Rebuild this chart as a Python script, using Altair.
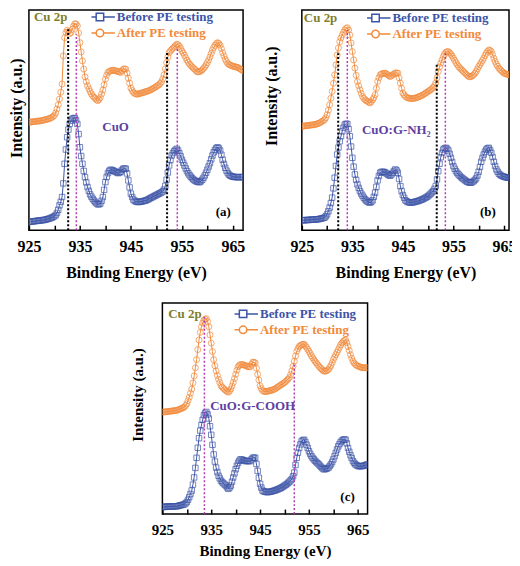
import altair as alt
import numpy as np
import pandas as pd

# ---------------- data ----------------
energy = [float(e) for e in np.arange(925.0, 967.001, 0.25)]  # binding energy grid (eV), 169 points
series_names = ["Before PE testing", "After PE testing"]

# panel (a) CuO
a_before = [8.3, 8.5, 8.7, 8.9, 9.0, 9.2, 9.3, 9.5, 9.7, 9.8, 10.0, 10.2,
            10.3, 10.6, 11.0, 11.3, 11.7, 12.2, 12.7, 13.3,
            14.0, 15.3, 17.3, 20.5, 25.0, 28.5, 33.3, 47.0,
            66.7, 81.0, 93.3, 101.0, 106.7, 110.0, 111.7, 112.5,
            112.7, 110.5, 106.7, 96.5, 83.3, 74.5, 66.7, 59.5,
            53.3, 48.0, 43.3, 39.5, 36.0, 33.7, 31.7, 29.9,
            28.3, 27.0, 26.0, 26.0, 26.7, 29.5, 33.3, 40.5,
            48.3, 53.5, 57.3, 59.5, 60.7, 60.5, 60.0, 59.3,
            58.7, 58.0, 57.3, 57.8, 58.7, 60.5, 61.7, 62.0,
            61.7, 57.0, 50.0, 43.0, 36.7, 33.3, 30.7, 29.5,
            28.7, 28.4, 28.3, 28.5, 28.7, 29.0, 29.3, 29.7,
            30.0, 30.6, 31.3, 32.0, 32.7, 33.3, 34.0, 34.7,
            35.3, 36.0, 36.7, 37.3, 38.0, 39.0, 40.7, 44.5,
            50.7, 58.0, 65.0, 70.5, 75.0, 77.5, 79.3, 80.7,
            81.7, 80.0, 77.3, 74.2, 70.7, 67.8, 65.0, 62.0,
            59.3, 57.2, 55.3, 53.7, 52.3, 51.0, 50.0, 49.3,
            48.7, 48.3, 48.3, 49.3, 50.7, 52.7, 55.0, 57.7,
            60.7, 64.0, 67.3, 71.2, 75.0, 78.2, 80.7, 82.5,
            83.3, 82.2, 80.0, 75.8, 70.7, 66.5, 62.7, 59.8,
            57.3, 55.8, 54.7, 54.1, 53.7, 53.5, 53.3, 53.3,
            53.3, 53.3, 53.3, 53.3, 53.3]
a_after = [108.3, 108.5, 108.7, 108.9, 109.0, 109.2, 109.3, 109.5,
           109.7, 109.8, 110.0, 110.3, 110.7, 111.0, 111.3, 111.7,
           112.0, 112.6, 113.3, 114.2, 115.3, 117.8, 121.7, 126.0,
           131.7, 138.5, 146.7, 175.0, 193.3, 198.5, 200.7, 199.5,
           197.3, 198.5, 201.7, 204.8, 207.3, 207.0, 205.0, 198.0,
           188.3, 179.0, 170.0, 161.8, 154.0, 149.2, 145.0, 142.0,
           139.3, 137.0, 135.0, 133.5, 132.3, 131.0, 130.0, 131.2,
           133.3, 136.7, 140.7, 146.0, 151.7, 155.5, 158.3, 159.4,
           160.0, 160.4, 160.7, 160.4, 160.0, 159.7, 159.3, 158.8,
           158.3, 160.0, 161.7, 162.0, 161.7, 157.8, 152.7, 147.5,
           142.7, 140.2, 138.3, 137.3, 136.7, 136.6, 136.7, 137.2,
           137.7, 138.0, 138.3, 138.8, 139.3, 139.7, 140.0, 140.6,
           141.3, 142.0, 142.7, 143.5, 144.3, 145.2, 146.0, 147.3,
           149.0, 152.0, 156.0, 162.0, 168.3, 174.0, 178.3, 180.2,
           181.3, 182.7, 184.0, 185.5, 186.7, 186.2, 184.7, 182.5,
           180.0, 178.0, 175.7, 173.2, 170.7, 168.6, 166.7, 165.3,
           164.0, 162.8, 161.7, 160.3, 159.0, 159.0, 159.3, 160.0,
           161.0, 162.4, 164.0, 166.0, 168.3, 171.0, 174.0, 177.5,
           180.7, 183.5, 185.7, 187.5, 188.3, 187.5, 185.7, 182.3,
           178.3, 175.0, 171.7, 169.3, 167.3, 166.4, 165.7, 165.2,
           164.7, 164.3, 164.0, 163.7, 163.3, 162.5, 161.7, 160.8,
           160.0]

# panel (b) CuO:G-NH2
b_before = [10.0, 10.0, 10.0, 10.2, 10.3, 10.3, 10.3, 10.5,
            10.7, 10.7, 10.7, 10.8, 11.0, 11.1, 11.3, 11.6,
            12.0, 12.3, 12.7, 14.0, 16.0, 19.0, 22.7, 27.3,
            32.7, 42.0, 52.7, 64.5, 76.0, 83.0, 89.3, 94.5,
            99.3, 103.0, 106.0, 106.8, 106.7, 101.5, 94.3, 84.0,
            72.7, 63.8, 56.0, 50.5, 46.0, 42.5, 39.3, 36.8,
            34.7, 32.7, 31.0, 29.8, 28.7, 28.0, 27.7, 28.5,
            30.0, 33.5, 37.7, 43.5, 50.0, 54.5, 57.7, 58.5,
            58.7, 58.5, 58.0, 57.0, 56.0, 55.2, 54.7, 56.0,
            57.7, 59.5, 61.0, 60.0, 57.7, 51.5, 44.3, 39.3,
            35.3, 32.5, 30.0, 29.0, 28.3, 27.9, 27.7, 27.8,
            28.0, 28.3, 28.7, 29.0, 29.3, 29.8, 30.3, 30.8,
            31.3, 32.0, 32.7, 33.5, 34.3, 35.5, 36.7, 38.0,
            39.3, 41.5, 44.3, 51.0, 59.3, 66.8, 73.3, 77.5,
            81.0, 82.2, 82.7, 81.8, 80.0, 76.7, 72.7, 68.5,
            64.3, 61.7, 59.3, 57.5, 56.0, 54.6, 53.3, 52.3,
            51.3, 50.3, 49.3, 48.6, 48.0, 47.8, 47.7, 48.3,
            49.3, 50.5, 52.0, 55.0, 58.7, 63.5, 68.7, 72.5,
            76.0, 78.8, 81.0, 82.2, 82.7, 80.5, 77.7, 73.5,
            68.7, 64.5, 61.0, 58.7, 56.7, 55.6, 54.7, 54.2,
            53.7, 53.3, 53.0, 52.8, 52.7, 52.7, 52.7, 52.7,
            52.7]
b_after = [104.3, 104.5, 104.7, 104.8, 105.0, 105.2, 105.3, 105.5,
           105.7, 105.8, 106.0, 106.3, 106.7, 107.2, 107.7, 108.4,
           109.3, 110.1, 111.0, 113.0, 116.0, 120.5, 126.0, 132.5,
           139.3, 147.5, 156.0, 166.0, 176.0, 183.0, 189.3, 193.0,
           196.0, 198.7, 201.0, 202.5, 203.3, 201.0, 196.0, 188.0,
           179.3, 171.0, 162.7, 155.5, 149.3, 145.0, 141.0, 137.5,
           134.3, 132.5, 131.0, 130.1, 129.3, 128.5, 127.7, 129.0,
           131.0, 133.0, 136.0, 142.5, 149.3, 153.0, 156.0, 156.8,
           157.3, 157.5, 157.7, 157.0, 156.0, 155.0, 154.3, 155.0,
           156.0, 157.0, 157.7, 158.0, 157.7, 153.0, 147.7, 142.5,
           137.7, 135.8, 134.3, 133.4, 132.7, 132.5, 132.3, 132.3,
           132.3, 132.5, 132.7, 133.2, 133.7, 134.2, 134.7, 135.3,
           136.0, 136.8, 137.7, 138.5, 139.3, 140.2, 141.0, 142.1,
           143.3, 145.2, 147.7, 153.0, 159.3, 164.0, 167.7, 171.0,
           174.3, 176.8, 178.7, 179.2, 179.3, 178.2, 176.7, 174.8,
           172.7, 170.5, 168.3, 166.3, 164.3, 163.0, 161.7, 160.5,
           159.3, 158.0, 156.7, 155.5, 154.3, 154.0, 154.3, 155.0,
           156.0, 157.5, 159.3, 161.8, 164.3, 166.3, 168.3, 170.5,
           172.7, 175.3, 177.7, 179.5, 181.0, 180.5, 179.3, 176.3,
           172.7, 169.5, 166.7, 164.7, 162.7, 161.3, 160.0, 158.8,
           157.7, 157.2, 156.7, 156.3, 156.0, 156.0, 156.0, 155.7,
           155.3]

# panel (c) CuO:G-COOH
c_before = [7.3, 7.3, 7.3, 7.5, 7.7, 7.7, 7.7, 7.7,
            7.7, 7.8, 8.0, 8.0, 8.0, 8.3, 8.7, 9.0,
            9.3, 9.6, 10.0, 11.0, 12.3, 14.5, 17.3, 20.5,
            24.0, 30.0, 37.3, 47.0, 57.3, 67.5, 77.3, 85.0,
            90.7, 96.0, 100.7, 103.0, 104.0, 101.5, 97.3, 89.5,
            80.7, 70.5, 60.7, 53.5, 47.3, 42.8, 39.0, 36.3,
            34.0, 32.5, 31.3, 30.1, 29.0, 27.2, 25.7, 27.0,
            29.0, 33.0, 37.3, 41.5, 45.7, 49.2, 52.3, 54.3,
            55.7, 55.5, 55.0, 54.5, 54.0, 54.0, 54.0, 54.0,
            54.0, 55.7, 57.3, 57.5, 57.3, 51.0, 44.0, 37.0,
            30.7, 27.0, 24.0, 23.2, 22.7, 22.5, 22.3, 22.5,
            22.7, 23.0, 23.3, 23.7, 24.0, 24.5, 25.0, 25.5,
            26.0, 26.6, 27.3, 28.1, 29.0, 29.8, 30.7, 31.8,
            33.0, 34.3, 35.7, 38.5, 42.3, 50.0, 57.3, 62.5,
            67.3, 71.0, 74.0, 75.2, 75.7, 73.5, 70.7, 67.3,
            64.0, 61.3, 59.0, 57.3, 55.7, 54.3, 53.0, 51.8,
            50.7, 49.3, 48.0, 46.8, 45.7, 45.7, 46.0, 46.6,
            47.3, 49.0, 50.7, 53.0, 55.7, 59.0, 62.3, 65.8,
            69.0, 71.3, 73.3, 74.8, 75.7, 76.0, 75.7, 72.0,
            67.3, 63.5, 60.0, 57.0, 54.0, 52.2, 50.7, 49.8,
            49.0, 48.8, 48.7, 48.8, 49.0, 49.3, 49.7, 50.2,
            50.7]
c_after = [104.0, 104.0, 104.0, 104.2, 104.3, 104.5, 104.7, 104.8,
           105.0, 105.2, 105.3, 105.5, 105.7, 106.2, 106.7, 107.2,
           107.7, 108.3, 109.0, 110.5, 112.3, 115.5, 119.0, 123.0,
           127.3, 133.5, 140.7, 149.0, 157.3, 167.5, 177.3, 185.0,
           190.7, 194.5, 197.3, 198.5, 199.0, 196.0, 190.7, 182.5,
           174.0, 165.5, 157.3, 151.0, 145.7, 141.2, 137.3, 134.0,
           130.7, 129.2, 128.0, 126.8, 125.7, 124.8, 124.0, 125.3,
           127.3, 130.5, 134.0, 138.0, 142.3, 146.5, 150.0, 151.5,
           152.3, 152.2, 152.0, 151.7, 151.3, 150.7, 150.0, 150.0,
           150.0, 152.5, 154.7, 154.5, 154.0, 148.5, 142.3, 136.5,
           130.7, 127.8, 125.7, 125.0, 124.7, 124.8, 125.0, 125.3,
           125.7, 126.0, 126.3, 126.8, 127.3, 128.2, 129.0, 129.8,
           130.7, 131.5, 132.3, 133.1, 134.0, 135.1, 136.3, 137.6,
           139.0, 142.0, 145.7, 150.5, 155.7, 161.0, 165.7, 168.5,
           170.7, 171.6, 172.3, 172.8, 173.0, 171.5, 169.7, 167.7,
           165.7, 163.5, 161.3, 159.3, 157.3, 155.6, 154.0, 152.3,
           150.7, 149.3, 148.0, 146.8, 145.7, 145.5, 145.7, 146.3,
           147.3, 149.2, 151.3, 154.2, 157.3, 159.8, 162.3, 164.8,
           167.3, 169.8, 172.3, 174.2, 175.7, 176.7, 177.3, 174.5,
           170.7, 166.5, 162.3, 158.8, 155.7, 153.8, 152.3, 151.5,
           150.7, 150.2, 149.7, 149.3, 149.0, 149.0, 149.0, 149.0,
           149.0]

# dotted reference lines: energy and top intensity
a_black_E, a_black_top = [932.7, 952.1], [201.7, 180.0]
a_purple_E, a_purple_top = [934.3, 954.1], [196.7, 183.0]
b_black_E, b_black_top = [932.2, 951.7], [177.7, 166.0]
b_purple_E, b_purple_top = [934.0, 953.4], [201.0, 177.7]
c_black_E, c_black_top = [], []
c_purple_E, c_purple_top = [933.6, 952.0], [200.7, 154.0]

tick_values = [925, 930, 935, 940, 945, 950, 955, 960, 965]

# ---------------- style ----------------
FONT = "Liberation Serif"
BLUE = "#3D55A8"
ORANGE = "#F28A3A"
OLIVE = "#7E7E2C"
VIOLET = "#5E3FA2"
MAGENTA = "#B23CB4"

SQ_PATH = "M-2,0H-0.5M0.5,0H2M-0.5,-0.5H0.5V0.5H-0.5Z"
CI_PATH = "M-2,0H-0.5M0.5,0A0.5,0.5,0,1,1,-0.5,0A0.5,0.5,0,1,1,0.5,0ZM0.5,0H2"


def make_panel(before, after, xmax, ymax, width, height,
               black_E, black_top, purple_E, purple_top,
               notes, leg_x, leg_y, y_title_pad, y_title_y, x_title_pad, axis_fs):
    n = len(energy)
    df = pd.DataFrame({
        "E": energy + energy,
        "I": before + after,
        "series": [series_names[0]] * n + [series_names[1]] * n,
    })
    xs = alt.Scale(domain=[925, xmax], nice=False, zero=False)
    ys = alt.Scale(domain=[0, ymax], nice=False, zero=False)
    xaxis = alt.Axis(
        title="Binding Energy (eV)", values=tick_values,
        labelExpr="datum.value % 10 == 5 ? datum.label : ''",
        offset=-5, tickSize=5, tickWidth=1.5, tickColor="black",
        domain=False, grid=False, labelPadding=8, labelFlush=False,
        labelFont=FONT, labelFontSize=axis_fs, labelFontWeight="bold", labelColor="black",
        titleFont=FONT, titleFontSize=axis_fs, titleFontWeight="bold", titleColor="black",
        titlePadding=x_title_pad,
    )
    yaxis = alt.Axis(
        title="Intensity (a.u.)", labels=False, ticks=False, domain=False, grid=False,
        minExtent=0, titlePadding=y_title_pad, titleY=y_title_y,
        titleFont=FONT, titleFontSize=axis_fs, titleFontWeight="bold", titleColor="black",
    )
    X = alt.X("E:Q", scale=xs, axis=xaxis)
    Y = alt.Y("I:Q", scale=ys, axis=yaxis)
    test = f"datum.value === '{series_names[0]}'"
    legend = alt.Legend(
        title=None, orient="none", legendX=leg_x, legendY=leg_y, padding=0,
        symbolSize=225, symbolStrokeWidth=1.5, symbolFillColor="white", symbolOpacity=1,
        symbolType={"expr": f"{test} ? '{SQ_PATH}' : '{CI_PATH}'"},
        labelColor={"expr": f"{test} ? '{BLUE}' : '{ORANGE}'"},
        labelFont=FONT, labelFontSize=13, labelFontWeight="bold", labelOffset=8.5,
        clipHeight=14, rowPadding=2, labelLimit=200,
    )
    cscale = alt.Scale(domain=series_names, range=[BLUE, ORANGE])
    color_leg = alt.Color("series:N", scale=cscale, legend=legend)
    color_nol = alt.Color("series:N", scale=cscale, legend=None)
    base = alt.Chart(df)
    line = base.mark_line(strokeWidth=1, clip=True).encode(x=X, y=Y, color=color_leg)
    sq = base.transform_filter(alt.datum.series == series_names[0]).mark_point(
        shape="square", filled=False, size=30, strokeWidth=0.9, opacity=0.8, clip=True
    ).encode(x=X, y=Y, color=color_nol)
    ci = base.transform_filter(alt.datum.series == series_names[1]).mark_point(
        shape="circle", filled=False, size=36, strokeWidth=0.9, opacity=0.8, clip=True
    ).encode(x=X, y=Y, color=color_nol)
    layers = [line, sq, ci]

    if black_E:
        dfb = pd.DataFrame({"E": black_E, "I": [0.0] * len(black_E), "top": black_top})
        layers.append(alt.Chart(dfb).mark_rule(color="black", strokeDash=[2, 2], strokeWidth=2)
                      .encode(x=X, y=Y, y2="top:Q"))
    if purple_E:
        dfp = pd.DataFrame({"E": purple_E, "I": [0.0] * len(purple_E), "top": purple_top})
        layers.append(alt.Chart(dfp).mark_rule(color=MAGENTA, strokeDash=[2, 2], strokeWidth=1.5)
                      .encode(x=X, y=Y, y2="top:Q"))
    for txt, e, i, col, align, fs in notes:
        dft = pd.DataFrame({"E": [e], "I": [i]})
        layers.append(alt.Chart(dft).mark_text(
            text=txt, align=align, baseline="middle", font=FONT, fontSize=fs,
            fontWeight="bold", color=col).encode(x=X, y=Y))
    return alt.layer(*layers).properties(width=width, height=height)


panel_a = make_panel(
    a_before, a_after, 967, 221, 215, 221,
    a_black_E, a_black_top, a_purple_E, a_purple_top,
    [("Cu 2p", 926.0, 214, OLIVE, "left", 13),
     ("CuO", 942.0, 104, VIOLET, "center", 13),
     ("(a)", 963.1, 18, "black", "center", 13)],
    62.8, 0, 4, 98, 10, 16)

panel_b = make_panel(
    b_before, b_after, 966, 221, 208, 221,
    b_black_E, b_black_top, b_purple_E, b_purple_top,
    [("Cu 2p", 925.4, 213, OLIVE, "left", 13),
     ("CuO:G-NH\u2082", 936.9, 101, VIOLET, "left", 13),
     ("(b)", 961.8, 18, "black", "center", 13)],
    65.5, 1, 22, 86, 10, 16)

panel_c = make_panel(
    c_before, c_after, 967, 215, 206, 212,
    c_black_E, c_black_top, c_purple_E, c_purple_top,
    [("Cu 2p", 926.2, 204, OLIVE, "left", 13),
     ("CuO:G-COOH", 934.8, 110, VIOLET, "left", 13),
     ("(c)", 962.9, 17, "black", "center", 13)],
    72.5, 4, 17, 92, 7, 15)

spacer = alt.Chart(pd.DataFrame({"E": [925.0]})).mark_point(size=0, opacity=0).encode(
    x=alt.X("E:Q", axis=None)
).properties(width=114, height=10, view=alt.ViewBackground(stroke="transparent"))

top_row = alt.hconcat(panel_a, panel_b, spacing=59, bounds="flush").resolve_scale(
    color="independent", x="independent", y="independent").resolve_legend(color="independent")
bottom_row = alt.hconcat(spacer, panel_c, spacing=20, bounds="flush").resolve_scale(
    color="independent", x="independent", y="independent").resolve_legend(color="independent")

chart = alt.vconcat(top_row, bottom_row, spacing=21).resolve_scale(
    color="independent", x="independent", y="independent"
).resolve_legend(color="independent").properties(
    padding={"left": 0, "top": 0, "right": -5, "bottom": 0}
).configure(font=FONT).configure_view(stroke="black", strokeWidth=1.5)

chart.save("out.html", embed_options={"renderer": "svg", "actions": False})
